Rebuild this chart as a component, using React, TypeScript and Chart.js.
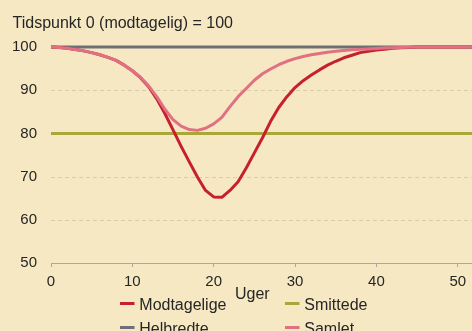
import { useEffect, useRef } from "react";
import { Chart, registerables } from "chart.js";

Chart.register(...registerables);

// Weeks since time 0
const weeks = [
  0, 1, 2, 3, 4, 5, 6, 7, 8, 9, 10, 11, 12, 13, 14, 15, 16, 17, 18, 19, 20,
  21, 22, 23, 24, 25, 26, 27, 28, 29, 30, 31, 32, 33, 34, 35, 36, 37, 38, 39,
  40, 41, 42, 43, 44, 45, 46, 47, 48, 49, 50, 51, 52,
];

// Index values (time 0 = 100)
const modtagelige = [
  100, 99.9, 99.7, 99.4, 99.1, 98.7, 98.2, 97.6, 96.9, 95.8, 94.5, 92.9, 90.8,
  88.0, 84.6, 80.8, 77.0, 73.4, 69.9, 66.8, 65.3, 65.2, 66.8, 68.8, 72.0, 75.5,
  79.0, 82.8, 86.0, 88.5, 90.6, 92.2, 93.5, 94.7, 95.8, 96.7, 97.5, 98.1, 98.7,
  99.0, 99.3, 99.5, 99.7, 99.8, 99.9, 100, 100, 100, 100, 100, 100, 100, 100,
];

const samlet = [
  100, 99.9, 99.7, 99.4, 99.1, 98.7, 98.2, 97.6, 96.9, 95.8, 94.5, 93.0, 91.0,
  88.5, 85.6, 83.2, 81.7, 80.9, 80.7, 81.2, 82.2, 83.7, 86.2, 88.5, 90.4, 92.3,
  93.8, 94.9, 95.9, 96.7, 97.3, 97.8, 98.2, 98.5, 98.8, 99.0, 99.2, 99.35,
  99.45, 99.55, 99.65, 99.75, 99.85, 99.9, 99.95, 100, 100, 100, 100, 100, 100,
  100, 100,
];

// Flat reference series
const flatWeeks = [0, 52];
const helbredte = [100, 100];
const smittede = [80, 80];

const titleText = "Tidspunkt 0 (modtagelig) = 100";
const xAxisTitle = "Uger";

// Legend grid: [dataset label, column, row]
const legendLayout: [string, number, number][] = [
  ["Modtagelige", 0, 0],
  ["Smittede", 1, 0],
  ["Helbredte", 0, 1],
  ["Samlet", 1, 1],
];

const FONT = '"Liberation Sans", Arial, Helvetica, sans-serif';
const TEXT = "#262626";
const BG = "#F6E8C3";
const GRID = "#D9CDAF";

const toPoints = (xs: number[], ys: number[]) =>
  xs.map((x, i) => ({ x, y: ys[i] }));

// Dashed horizontal guide lines at the y ticks above the baseline
const dashedGridPlugin = {
  id: "dashedGrid",
  beforeDatasetsDraw(chart: any) {
    const { ctx, chartArea, scales } = chart;
    const y = scales.y;
    ctx.save();
    ctx.strokeStyle = GRID;
    ctx.lineWidth = 1;
    ctx.setLineDash([4, 3]);
    y.ticks.forEach((t: any) => {
      if (t.value <= y.min) return;
      const py = Math.round(y.getPixelForValue(t.value)) + 0.5;
      ctx.beginPath();
      ctx.moveTo(chartArea.left, py);
      ctx.lineTo(chartArea.right, py);
      ctx.stroke();
    });
    ctx.restore();
  },
};

const overlayPlugin = {
  id: "overlayText",
  afterDraw(chart: any) {
    const ctx = chart.ctx as CanvasRenderingContext2D;
    ctx.save();
    ctx.font = `16px ${FONT}`;
    ctx.textAlign = "left";
    ctx.textBaseline = "alphabetic";
    ctx.fillStyle = TEXT;
    ctx.fillText(titleText, 12.5, 27.5);
    ctx.fillText(xAxisTitle, 235, 299);

    const colX = [120, 285];
    legendLayout.forEach(([label, col, row]) => {
      const ds = chart.data.datasets.find((d: any) => d.label === label);
      if (!ds) return;
      const x = colX[col];
      const y = 303.5 + row * 24;
      ctx.fillStyle = ds.borderColor;
      ctx.fillRect(x, y - 1.5, 14.5, 3);
      ctx.fillStyle = TEXT;
      ctx.fillText(label, x + 19.3, y + 6);
    });
    ctx.restore();
  },
};

export default function App() {
  const canvasRef = useRef<HTMLCanvasElement>(null);

  useEffect(() => {
    if (!canvasRef.current) return;
    const chart = new Chart(canvasRef.current, {
      type: "line",
      data: {
        datasets: [
          {
            label: "Modtagelige",
            data: toPoints(weeks, modtagelige),
            borderColor: "#C6202F",
            borderWidth: 3,
            order: 1,
          },
          {
            label: "Smittede",
            data: toPoints(flatWeeks, smittede),
            borderColor: "#A9A73A",
            borderWidth: 3,
            order: 3,
          },
          {
            label: "Helbredte",
            data: toPoints(flatWeeks, helbredte),
            borderColor: "#6D7177",
            borderWidth: 3,
            order: 2,
          },
          {
            label: "Samlet",
            data: toPoints(weeks, samlet),
            borderColor: "#E07082",
            borderWidth: 3,
            order: 0,
          },
        ],
      },
      options: {
        responsive: false,
        animation: false,
        events: [],
        layout: { padding: { top: 47, left: 0, right: 0, bottom: 0 } },
        datasets: { line: { clip: false } },
        elements: {
          point: { radius: 0 },
          line: { tension: 0, borderCapStyle: "butt", borderJoinStyle: "round" },
        },
        plugins: {
          legend: { display: false },
          tooltip: { enabled: false },
          title: { display: false },
        },
        scales: {
          x: {
            type: "linear",
            min: 0,
            max: 52,
            afterFit: (s: any) => {
              s.height = 68;
            },
            ticks: {
              stepSize: 10,
              includeBounds: false,
              padding: 6,
              color: TEXT,
              font: { family: FONT, size: 15 },
              maxRotation: 0,
            },
            grid: {
              drawOnChartArea: false,
              drawTicks: true,
              tickLength: 4,
              tickColor: "#ABA89F",
              tickWidth: 1,
            },
            border: { display: true, color: "#ABA89F", width: 1 },
          },
          y: {
            min: 50,
            max: 100,
            afterFit: (s: any) => {
              s.width = 51;
            },
            ticks: {
              stepSize: 10,
              padding: 14,
              color: TEXT,
              font: { family: FONT, size: 15 },
            },
            grid: { drawOnChartArea: false, drawTicks: false },
            border: { display: false },
          },
        },
      },
      plugins: [dashedGridPlugin, overlayPlugin],
    } as any);
    return () => chart.destroy();
  }, []);

  return (
    <div
      style={{
        position: "absolute",
        left: 0,
        top: 0,
        width: 472,
        height: 331,
        overflow: "hidden",
        background: BG,
      }}
    >
      <canvas ref={canvasRef} width={474} height={331} style={{ display: "block" }} />
    </div>
  );
}
